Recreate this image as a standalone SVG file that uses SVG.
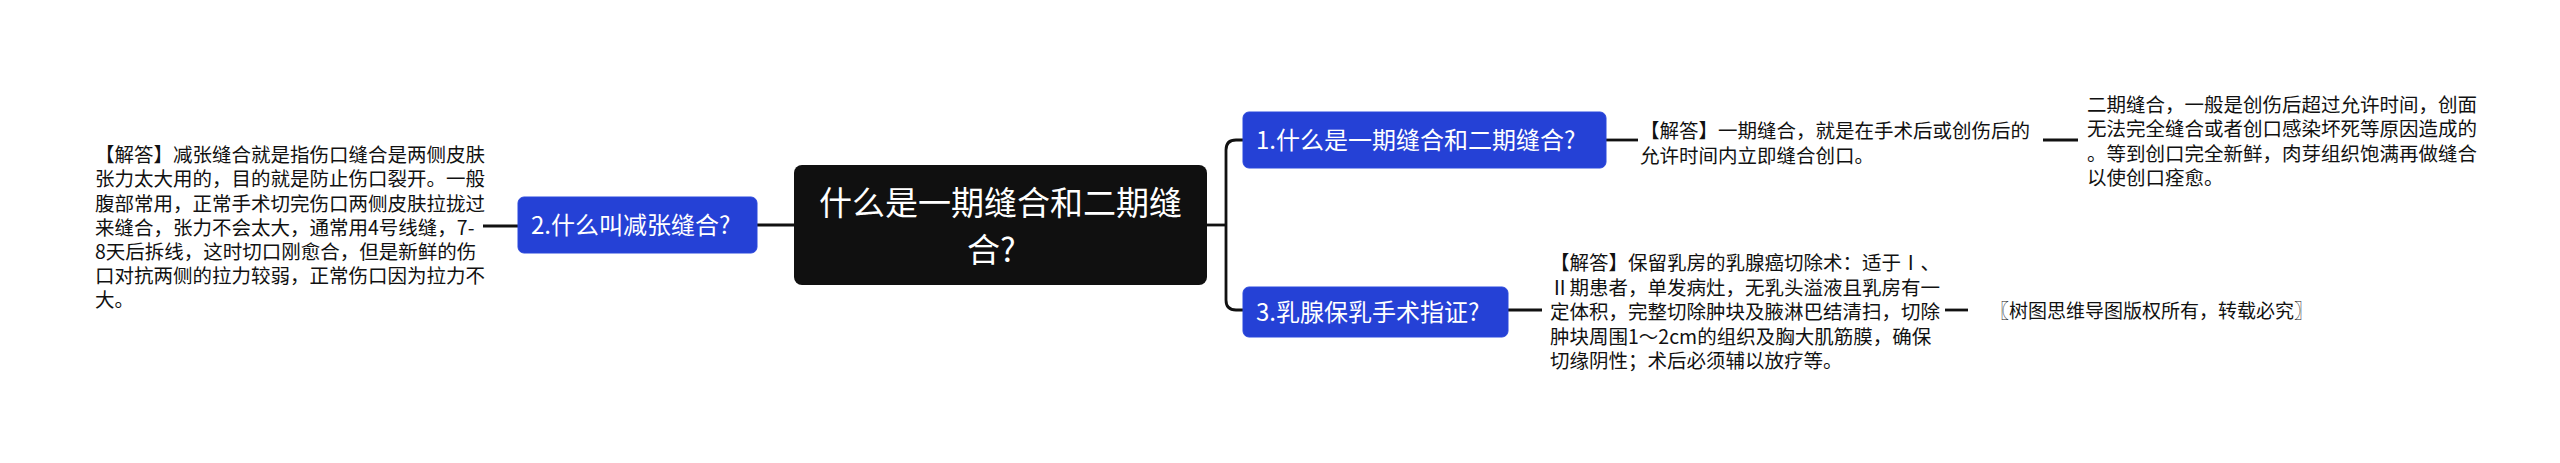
<svg xmlns="http://www.w3.org/2000/svg" width="2560" height="463" viewBox="0 0 2560 463">
<style>
.bg{fill:#ffffff}
.conn{fill:none;stroke:#111111;stroke-width:2.8;stroke-linecap:butt}
.blue{fill:#2541d6;stroke:#2b48dc;stroke-width:1}
.root{fill:#101010}
.t{font-family:"Noto Sans CJK SC","Noto Sans",sans-serif;fill:#111111;font-size:19.5px}
.nt{font-family:"Noto Sans CJK SC","Noto Sans",sans-serif;fill:#ffffff;font-size:24px}
.rt{font-family:"Noto Sans CJK SC","Noto Sans",sans-serif;fill:#ffffff;font-size:33px}
.cp{font-family:"Noto Sans CJK SC","Noto Sans",sans-serif;fill:#111111;font-size:19px}
</style>
<rect class="bg" x="0" y="0" width="2560" height="463"/>
<g id="connectors">
<path class="conn" d="M483,226 H518"/>
<path class="conn" d="M757,225 H794"/>
<path class="conn" d="M1207,225 H1226"/>
<path class="conn" d="M1243,140 H1236 Q1226,140 1226,150 V300 Q1226,310 1236,310 H1243"/>
<path class="conn" d="M1606,140 H1638"/>
<path class="conn" d="M2043,140 H2078"/>
<path class="conn" d="M1508,310 H1542"/>
<path class="conn" d="M1945,310 H1968"/>
</g>
<g id="root">
<rect class="root" x="794" y="165" width="413" height="120" rx="8"/>
<text class="rt" x="1000.5" y="215" text-anchor="middle">什么是一期缝合和二期缝</text>
<text class="rt" x="967" y="262">合?</text>
</g>
<g id="node2">
<rect class="blue" x="518" y="197" width="239" height="56" rx="6"/>
<text class="nt" x="531" y="233.5">2.什么叫减张缝合?</text>
</g>
<g id="text2">
<text class="t" x="95" y="162">【解答】减张缝合就是指伤口缝合是两侧皮肤</text>
<text class="t" x="95" y="186">张力太大用的，目的就是防止伤口裂开。一般</text>
<text class="t" x="95" y="210.5">腹部常用，正常手术切完伤口两侧皮肤拉拢过</text>
<text class="t" x="95" y="234.5">来缝合，张力不会太大，通常用4号线缝，7-</text>
<text class="t" x="95" y="258.5">8天后拆线，这时切口刚愈合，但是新鲜的伤</text>
<text class="t" x="95" y="283">口对抗两侧的拉力较弱，正常伤口因为拉力不</text>
<text class="t" x="95" y="307">大。</text>
</g>
<g id="node1">
<rect class="blue" x="1243" y="112" width="363" height="56" rx="6"/>
<text class="nt" x="1256" y="148.5">1.什么是一期缝合和二期缝合?</text>
</g>
<g id="text1">
<text class="t" x="1640" y="138">【解答】一期缝合，就是在手术后或创伤后的</text>
<text class="t" x="1640" y="162.5">允许时间内立即缝合创口。</text>
</g>
<g id="text4">
<text class="t" x="2087" y="111.5">二期缝合，一般是创伤后超过允许时间，创面</text>
<text class="t" x="2087" y="136">无法完全缝合或者创口感染坏死等原因造成的</text>
<text class="t" x="2087" y="160.5">。等到创口完全新鲜，肉芽组织饱满再做缝合</text>
<text class="t" x="2087" y="185">以使创口痊愈。</text>
</g>
<g id="node3">
<rect class="blue" x="1243" y="287" width="265" height="50" rx="6"/>
<text class="nt" x="1256" y="320.5">3.乳腺保乳手术指证?</text>
</g>
<g id="text3">
<text class="t" x="1550" y="270">【解答】保留乳房的乳腺癌切除术：适于Ⅰ、</text>
<text class="t" x="1550" y="294.5">Ⅱ期患者，单发病灶，无乳头溢液且乳房有一</text>
<text class="t" x="1550" y="319">定体积，完整切除肿块及腋淋巴结清扫，切除</text>
<text class="t" x="1550" y="343.5">肿块周围1～2cm的组织及胸大肌筋膜，确保</text>
<text class="t" x="1550" y="368">切缘阴性；术后必须辅以放疗等。</text>
</g>
<g id="copyright">
<text class="cp" x="1990" y="317.5">〖树图思维导图版权所有，转载必究〗</text>
</g>
</svg>
